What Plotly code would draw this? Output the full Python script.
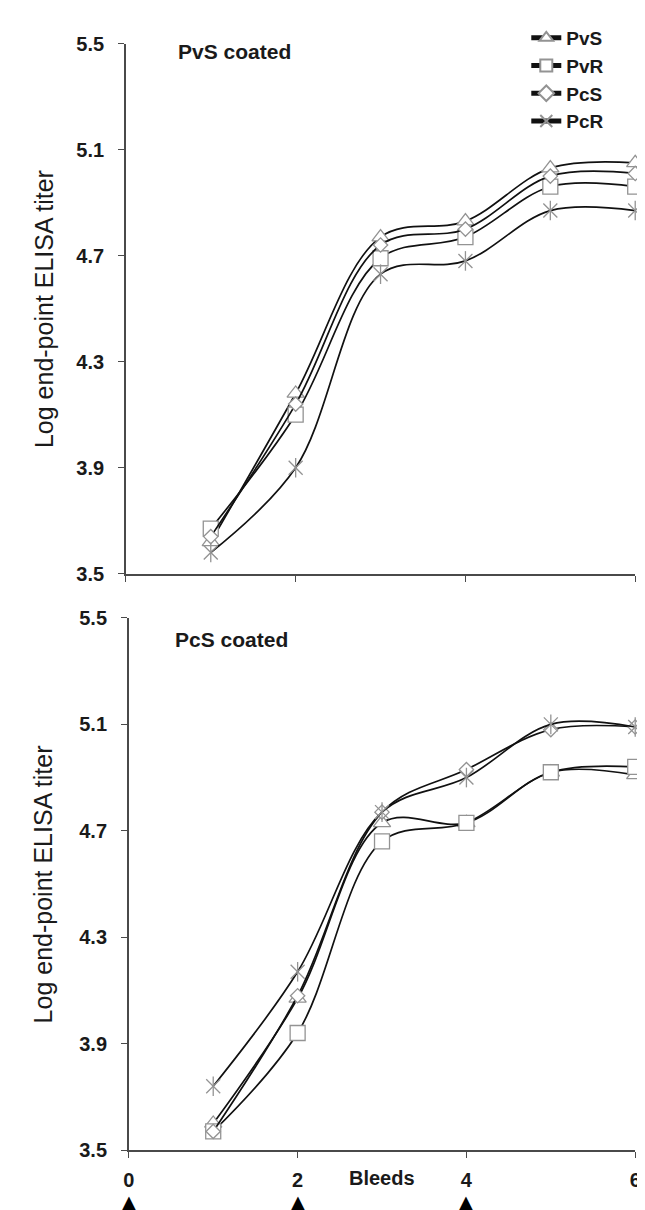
import plotly.graph_objects as go

# ---------------- data ----------------
bleeds = [1, 2, 3, 4, 5, 6]
series_names = ["PvS", "PvR", "PcS", "PcR"]

# Panel 1: PvS coated
pvs_coated_PvS = [3.62, 4.18, 4.77, 4.83, 5.03, 5.05]
pvs_coated_PvR = [3.67, 4.10, 4.69, 4.77, 4.96, 4.96]
pvs_coated_PcS = [3.64, 4.14, 4.74, 4.80, 5.00, 5.01]
pvs_coated_PcR = [3.58, 3.90, 4.63, 4.68, 4.87, 4.87]

# Panel 2: PcS coated
pcs_coated_PvS = [3.60, 4.07, 4.73, 4.73, 4.92, 4.91]
pcs_coated_PvR = [3.57, 3.94, 4.66, 4.73, 4.92, 4.94]
pcs_coated_PcS = [3.57, 4.08, 4.77, 4.93, 5.08, 5.09]
pcs_coated_PcR = [3.74, 4.17, 4.77, 4.90, 5.10, 5.09]

y_ticks = [3.5, 3.9, 4.3, 4.7, 5.1, 5.5]
x_ticks = [0, 2, 4, 6]
x_tick_labels = ["0", "2", "4", "6"]
arrow_bleeds = [0, 2, 4]
panel_titles = ["PvS coated", "PcS coated"]
y_title = "Log end-point ELISA titer"
x_title = "Bleeds"

# ---------------- style ----------------
W, H = 645, 1210
FONT = "Liberation Sans, Arial, sans-serif"
TXT = "#1a1a1a"
AX = "#4a4a4a"
MK = "#939393"

symbols = {"PvS": "triangle-up", "PvR": "square", "PcS": "diamond", "PcR": "x-thin-open"}
sizes = {"PvS": 15, "PvR": 15, "PcS": 11, "PcR": 14}

fig = go.Figure()

panels = [
    ("x", "y", [pvs_coated_PvS, pvs_coated_PvR, pvs_coated_PcS, pvs_coated_PcR], True),
    ("x2", "y2", [pcs_coated_PvS, pcs_coated_PvR, pcs_coated_PcS, pcs_coated_PcR], False),
]

for xa, ya, vals, show in panels:
    for name, v in zip(series_names, vals):
        mk = dict(symbol=symbols[name], size=sizes[name], color="white",
                  line=dict(color=MK, width=1.3))
        if name == "PcR":
            mk = dict(symbol="x-thin-open", size=sizes[name], color=MK,
                      line=dict(color=MK, width=1.3))
        fig.add_trace(go.Scatter(
            x=bleeds, y=v, name=name, xaxis=xa, yaxis=ya,
            mode="lines+markers", showlegend=show, legendgroup=name,
            line=dict(color="#111111", width=1.7, shape="spline", smoothing=1.0),
            marker=mk, cliponaxis=False,
        ))
        if name == "PcR":
            fig.add_trace(go.Scatter(
                x=bleeds, y=v, xaxis=xa, yaxis=ya, mode="markers",
                showlegend=False, legendgroup=name, hoverinfo="skip",
                marker=dict(symbol="line-ns-open", size=sizes[name], color=MK,
                            line=dict(color=MK, width=1.3)),
                cliponaxis=False,
            ))

def px_y(p):
    return 1 - p / H

def px_x(p):
    return p / W

axis_common = dict(showgrid=False, zeroline=False, showline=True, linecolor=AX,
                   linewidth=1.6, ticks="outside", ticklen=6, tickcolor=AX,
                   tickwidth=1.4)

fig.update_layout(
    width=W, height=H, margin=dict(l=0, r=0, t=0, b=0),
    paper_bgcolor="white", plot_bgcolor="white",
    font=dict(family=FONT, color=TXT),
    xaxis=dict(domain=[px_x(114), px_x(633)], range=[0, 6], anchor="y",
               tickvals=x_ticks, showticklabels=False, **axis_common),
    yaxis=dict(domain=[px_y(565), px_y(25)], range=[3.5, 5.5], anchor="x",
               tickvals=y_ticks, ticktext=[f"{t:.1f}" for t in y_ticks],
               tickfont=dict(size=20, weight="bold", family=FONT, color=TXT),
               ticklabelstandoff=10, **axis_common),
    xaxis2=dict(domain=[px_x(117), px_x(633)], range=[0, 6], anchor="y2",
                tickvals=x_ticks, ticktext=x_tick_labels,
                tickfont=dict(size=20, weight="bold", family=FONT, color=TXT),
                ticklabelstandoff=5, **axis_common),
    yaxis2=dict(domain=[px_y(1152), px_y(610)], range=[3.5, 5.5], anchor="x2",
                tickvals=y_ticks, ticktext=[f"{t:.1f}" for t in y_ticks],
                tickfont=dict(size=20, weight="bold", family=FONT, color=TXT),
                ticklabelstandoff=10, **axis_common),
    legend=dict(x=px_x(522), y=1.0, xanchor="left", yanchor="top",
                bgcolor="rgba(0,0,0,0)", tracegroupgap=0,
                font=dict(size=19, weight="bold", family=FONT, color=TXT),
                itemsizing="constant", itemwidth=30),
    showlegend=True,
)

annos = []
# panel titles
annos.append(dict(text=panel_titles[0], x=px_x(165), y=px_y(33), xref="paper", yref="paper",
                  xanchor="left", yanchor="middle", showarrow=False,
                  font=dict(size=21, weight="bold", family=FONT, color=TXT)))
annos.append(dict(text=panel_titles[1], x=px_x(162), y=px_y(632), xref="paper", yref="paper",
                  xanchor="left", yanchor="middle", showarrow=False,
                  font=dict(size=21, weight="bold", family=FONT, color=TXT)))
# y titles
for yc in [(25 + 565) / 2, (610 + 1152) / 2]:
    annos.append(dict(text=y_title, x=px_x(30), y=px_y(yc), xref="paper", yref="paper",
                      xanchor="center", yanchor="middle", textangle=-90, showarrow=False,
                      font=dict(size=25, family=FONT, color=TXT)))
# x title
annos.append(dict(text=x_title, x=3, y=px_y(1180), xref="x2", yref="paper",
                  xanchor="center", yanchor="middle", showarrow=False,
                  font=dict(size=20, weight="bold", family=FONT, color=TXT)))
# arrows marking immunisations (cut by the bottom edge, as in the original)
for b in arrow_bleeds:
    annos.append(dict(text="▲", x=b, y=px_y(1192), xref="x2", yref="paper",
                      xanchor="center", yanchor="top", showarrow=False,
                      font=dict(size=18, family="DejaVu Sans", color="#000000")))
fig.update_layout(annotations=annos)

fig.write_html("out.html")
